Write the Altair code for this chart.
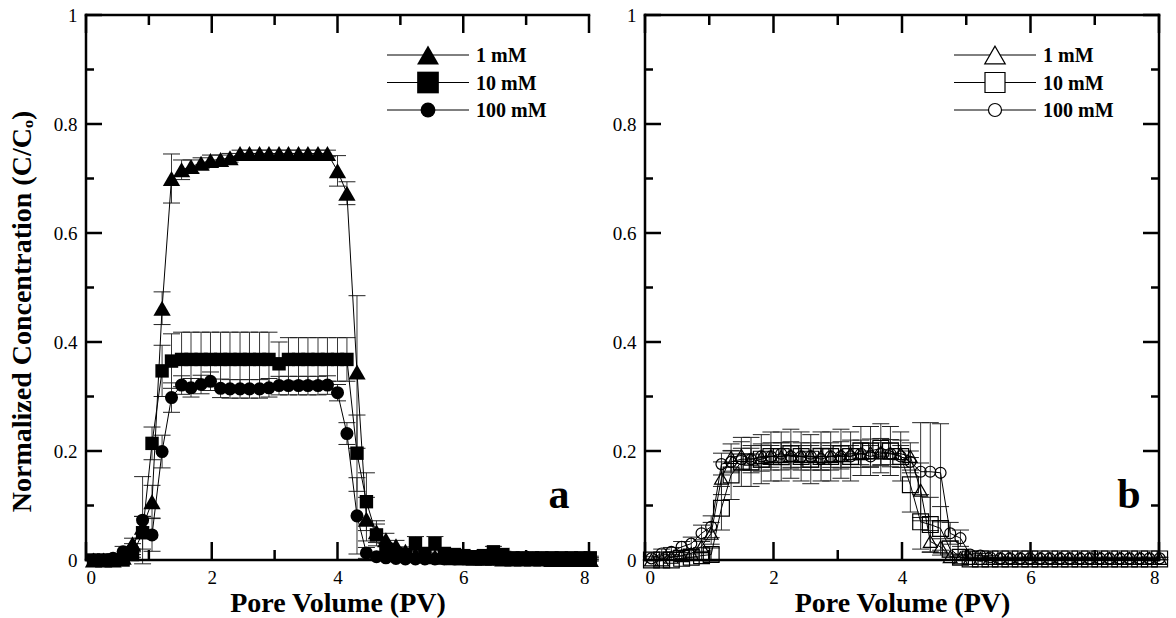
import altair as alt
import pandas as pd

FONT = "Liberation Serif"
SERIES = ["1 mM", "10 mM", "100 mM"]
SHAPES = ["triangle-up", "square", "circle"]

X_MAJOR = [0, 2, 4, 6, 8]
X_MINOR = [1, 3, 5, 7]
Y_MAJOR = [0, 0.2, 0.4, 0.6, 0.8, 1]
Y_MINOR = [0.1, 0.3, 0.5, 0.7, 0.9]

# ---- panel a: breakthrough curves (filled symbols) ----
PV_A = [0.12, 0.28, 0.43, 0.59, 0.74, 0.90, 1.05, 1.21, 1.36, 1.52, 1.67, 1.83, 1.98,
        2.14, 2.29, 2.45, 2.60, 2.76, 2.91, 3.07, 3.22, 3.38, 3.53, 3.69, 3.84, 4.00,
        4.15, 4.31, 4.46, 4.62, 4.77, 4.93, 5.08, 5.24, 5.39, 5.55, 5.70, 5.86, 6.01,
        6.17, 6.32, 6.48, 6.63, 6.79, 6.94, 7.10, 7.25, 7.41, 7.56, 7.72, 7.87, 8.02]

A_1MM = [0, 0, 0, 0.005, 0.03, 0.06, 0.107, 0.462, 0.700, 0.716, 0.722, 0.728, 0.733,
         0.735, 0.738, 0.746, 0.746, 0.746, 0.746, 0.746, 0.746, 0.746, 0.746, 0.746, 0.746, 0.714,
         0.673, 0.345, 0.075, 0.052, 0.037, 0.026, 0.016, 0.010, 0.008, 0.006, 0.005, 0.004, 0.004,
         0.003, 0.003, 0.003, 0.002, 0.002, 0.002, 0.002, 0.002, 0.001, 0.001, 0.001, 0.001, 0.001]
A_1MM_ERR = [0, 0, 0, 0.003, 0.01, 0.02, 0.03, 0.03, 0.045, 0.018, 0.012, 0.01, 0.01,
             0.008, 0.008, 0.006, 0.006, 0.006, 0.006, 0.006, 0.006, 0.006, 0.006, 0.006, 0.006, 0.028,
             0.021, 0.14, 0.04, 0.02, 0.012, 0.01, 0.008, 0.006, 0.005, 0.004, 0.003, 0.003, 0.003,
             0.003, 0.003, 0.003, 0.003, 0.003, 0.003, 0.003, 0.003, 0.003, 0.003, 0.003, 0.003, 0.003]

A_10MM = [0, 0, 0, 0, 0.01, 0.05, 0.214, 0.347, 0.365, 0.368, 0.368, 0.368, 0.368,
          0.368, 0.368, 0.368, 0.368, 0.368, 0.368, 0.360, 0.368, 0.368, 0.368, 0.368, 0.368, 0.368,
          0.368, 0.196, 0.107, 0.046, 0.02, 0.012, 0.01, 0.03, 0.012, 0.03, 0.012, 0.01, 0.008,
          0.006, 0.008, 0.015, 0.01, 0.004, 0.004, 0.004, 0.004, 0.004, 0.004, 0.004, 0.004, 0.004]
A_10MM_ERR = [0, 0, 0, 0, 0.005, 0.03, 0.03, 0.047, 0.05, 0.05, 0.05, 0.05, 0.05,
              0.05, 0.05, 0.05, 0.05, 0.05, 0.05, 0.04, 0.04, 0.04, 0.04, 0.04, 0.04, 0.04,
              0.04, 0.07, 0.053, 0.02, 0.01, 0.008, 0.008, 0.013, 0.008, 0.013, 0.008, 0.006, 0.005,
              0.005, 0.006, 0.01, 0.006, 0.003, 0.003, 0.003, 0.003, 0.003, 0.003, 0.003, 0.003, 0.003]

A_100MM = [0, 0, 0.003, 0.015, 0.02, 0.073, 0.046, 0.199, 0.298, 0.321, 0.316, 0.322, 0.328,
           0.315, 0.314, 0.314, 0.314, 0.314, 0.316, 0.320, 0.320, 0.320, 0.320, 0.320, 0.321, 0.307,
           0.232, 0.081, 0.013, 0.006, 0.004, 0.003, 0.002, 0.002, 0.002, 0.002, 0.002, 0.002, 0.002,
           0.002, 0.002, 0.002, 0.002, 0.002, 0.002, 0.002, 0.002, 0.002, 0.002, 0.002, 0.002, 0.002]
A_100MM_ERR = [0, 0, 0.003, 0.01, 0.01, 0.08, 0.03, 0.03, 0.027, 0.017, 0.017, 0.017, 0.017,
               0.017, 0.017, 0.017, 0.017, 0.017, 0.017, 0.017, 0.017, 0.017, 0.017, 0.017, 0.017, 0.015,
               0.02, 0.07, 0.01, 0.005, 0.003, 0.003, 0.002, 0.002, 0.002, 0.002, 0.002, 0.002, 0.002,
               0.002, 0.002, 0.002, 0.002, 0.002, 0.002, 0.002, 0.002, 0.002, 0.002, 0.002, 0.002, 0.002]

# ---- panel b: breakthrough curves (open symbols) ----
PV_B = [0.10, 0.26, 0.41, 0.57, 0.72, 0.88, 1.03, 1.19, 1.34, 1.50, 1.65, 1.81, 1.96,
        2.12, 2.27, 2.43, 2.58, 2.74, 2.89, 3.05, 3.20, 3.36, 3.51, 3.67, 3.82, 3.98,
        4.13, 4.29, 4.44, 4.60, 4.75, 4.91, 5.06, 5.22, 5.37, 5.53, 5.68, 5.84, 5.99,
        6.15, 6.30, 6.46, 6.61, 6.77, 6.92, 7.08, 7.23, 7.39, 7.54, 7.70, 7.85, 8.01]

B_1MM = [0, 0, 0.005, 0.008, 0.012, 0.025, 0.049, 0.150, 0.188, 0.192, 0.185, 0.188, 0.19,
         0.19, 0.192, 0.19, 0.19, 0.19, 0.19, 0.192, 0.195, 0.195, 0.197, 0.198, 0.196, 0.195,
         0.19, 0.128, 0.034, 0.024, 0.006, 0.004, 0.003, 0.003, 0.003, 0.003, 0.003, 0.003, 0.003,
         0.003, 0.003, 0.003, 0.003, 0.003, 0.003, 0.003, 0.003, 0.003, 0.003, 0.003, 0.003, 0.003]
B_1MM_ERR = [0, 0, 0.005, 0.006, 0.008, 0.012, 0.02, 0.03, 0.025, 0.025, 0.025, 0.025, 0.025,
             0.025, 0.025, 0.025, 0.025, 0.025, 0.025, 0.025, 0.025, 0.025, 0.025, 0.025, 0.025, 0.025,
             0.025, 0.05, 0.02, 0.015, 0.005, 0.004, 0.002, 0.002, 0.002, 0.002, 0.002, 0.002, 0.002,
             0.002, 0.002, 0.002, 0.002, 0.002, 0.002, 0.002, 0.002, 0.002, 0.002, 0.002, 0.002, 0.002]

B_10MM = [0, 0, 0, 0.003, 0.005, 0.008, 0.01, 0.095, 0.156, 0.18, 0.18, 0.185, 0.19,
          0.19, 0.195, 0.19, 0.185, 0.19, 0.19, 0.195, 0.19, 0.20, 0.20, 0.205, 0.20, 0.19,
          0.138, 0.07, 0.065, 0.058, 0.02, 0.005, 0.002, 0.002, 0.002, 0.002, 0.002, 0.002, 0.002,
          0.002, 0.002, 0.002, 0.002, 0.002, 0.002, 0.002, 0.002, 0.002, 0.002, 0.002, 0.002, 0.002]
B_10MM_ERR = [0, 0, 0, 0.004, 0.006, 0.008, 0.012, 0.04, 0.045, 0.045, 0.045, 0.045, 0.045,
              0.045, 0.045, 0.045, 0.045, 0.045, 0.045, 0.045, 0.045, 0.045, 0.045, 0.045, 0.045, 0.045,
              0.05, 0.05, 0.05, 0.04, 0.015, 0.005, 0.002, 0.002, 0.002, 0.002, 0.002, 0.002, 0.002,
              0.002, 0.002, 0.002, 0.002, 0.002, 0.002, 0.002, 0.002, 0.002, 0.002, 0.002, 0.002, 0.002]

B_100MM = [0.003, 0.012, 0.015, 0.024, 0.03, 0.049, 0.061, 0.176, 0.18, 0.185, 0.185, 0.19, 0.19,
           0.195, 0.19, 0.19, 0.19, 0.185, 0.19, 0.19, 0.19, 0.195, 0.19, 0.195, 0.195, 0.19,
           0.18, 0.162, 0.162, 0.16, 0.049, 0.04, 0.01, 0.008, 0.005, 0.003, 0.003, 0.003, 0.003,
           0.003, 0.003, 0.003, 0.003, 0.003, 0.003, 0.003, 0.003, 0.003, 0.003, 0.003, 0.003, 0.003]
B_100MM_ERR = [0.003, 0.008, 0.008, 0.01, 0.012, 0.015, 0.02, 0.02, 0.02, 0.02, 0.02, 0.02, 0.02,
               0.02, 0.02, 0.02, 0.02, 0.02, 0.02, 0.02, 0.02, 0.02, 0.02, 0.02, 0.02, 0.02,
               0.02, 0.09, 0.09, 0.09, 0.02, 0.015, 0.005, 0.004, 0.003, 0.002, 0.002, 0.002, 0.002,
               0.002, 0.002, 0.002, 0.002, 0.002, 0.002, 0.002, 0.002, 0.002, 0.002, 0.002, 0.002, 0.002]

PLOT_H = 545
BLACK = "black"


def build_panel(pv, curves, width, filled, sizes, legend_sizes, tag, y_title,
                right_spine, legend_x):
    xs = alt.Scale(domain=[0, 8], nice=False, zero=False)
    ys = alt.Scale(domain=[0, 1], nice=False, zero=False)
    x_axis = alt.Axis(values=X_MAJOR, format="~g", domain=False, ticks=False, grid=False,
                      labelFont=FONT, labelFontSize=19, labelPadding=8, labelColor=BLACK,
                      title="Pore Volume (PV)", titleFont=FONT, titleFontSize=28,
                      titleFontWeight="bold", titleColor=BLACK, titlePadding=2)
    y_kw = dict(values=Y_MAJOR, format="~g", domain=False, ticks=False, grid=False,
                labelFont=FONT, labelFontSize=19, labelPadding=9, labelColor=BLACK)
    if y_title:
        y_kw.update(title=y_title, titleFont=FONT, titleFontSize=28, titleFontWeight="bold",
                    titleColor=BLACK, titlePadding=17, titleY=296)
    else:
        y_kw.update(title=None)
    y_axis = alt.Axis(**y_kw)

    def X(field):
        return alt.X(field, type="quantitative", scale=xs, axis=x_axis)

    def Y(field):
        return alt.Y(field, type="quantitative", scale=ys, axis=y_axis)

    rows = []
    for name, vals, errs in zip(SERIES, curves[0], curves[1]):
        for x, v, e in zip(pv, vals, errs):
            rows.append({"pv": x, "c": v, "lo": v - e, "hi": v + e, "series": name})
    df = pd.DataFrame(rows)

    layers = []
    # error bars with caps
    layers.append(alt.Chart(df).mark_rule(color="#222222", strokeWidth=0.9).encode(
        x=X("pv"), y=Y("lo"), y2=alt.Y2("hi")))
    for f in ["lo", "hi"]:
        layers.append(alt.Chart(df).mark_tick(orient="horizontal", size=17, thickness=1,
                                              color="#222222", opacity=1).encode(x=X("pv"), y=Y(f)))
    # connecting lines
    layers.append(alt.Chart(df).mark_line(color=BLACK, strokeWidth=1).encode(
        x=X("pv"), y=Y("c"), detail="series:N", order="pv:Q"))
    # symbols
    for name, shape, size in zip(SERIES, SHAPES, sizes):
        sub = df[df["series"] == name]
        if filled:
            mk = alt.Chart(sub).mark_point(shape=shape, size=size, filled=True, color=BLACK,
                                           opacity=1)
        else:
            mk = alt.Chart(sub).mark_point(shape=shape, size=size, filled=False, color=BLACK,
                                           strokeWidth=1.2, opacity=1)
        layers.append(mk.encode(x=X("pv"), y=Y("c")))

    # inward ticks
    def yticks(vals, x0, x1):
        return alt.Chart(pd.DataFrame({"v": vals})).mark_rule(color=BLACK, strokeWidth=2.5).encode(
            y=Y("v"), x=alt.value(x0), x2=alt.value(x1))

    def xticks(vals, y0, y1):
        return alt.Chart(pd.DataFrame({"v": vals})).mark_rule(color=BLACK, strokeWidth=2.5).encode(
            x=X("v"), y=alt.value(y0), y2=alt.value(y1))

    layers += [yticks(Y_MAJOR, 0, 16), yticks(Y_MINOR, 0, 8),
               xticks(X_MAJOR, PLOT_H, PLOT_H - 18), xticks(X_MINOR, PLOT_H, PLOT_H - 10),
               xticks(X_MAJOR, 0, 18), xticks(X_MINOR, 0, 10)]
    if right_spine:
        layers += [yticks(Y_MAJOR, width, width - 16), yticks(Y_MINOR, width, width - 8)]

    one = pd.DataFrame({"k": [0]})
    spine = dict(color=BLACK, strokeWidth=2.5, strokeCap="square")
    layers.append(alt.Chart(one).mark_rule(**spine).encode(
        x=alt.value(0), y=alt.value(0), y2=alt.value(PLOT_H)))
    layers.append(alt.Chart(one).mark_rule(**spine).encode(
        x=alt.value(0), x2=alt.value(width), y=alt.value(PLOT_H)))
    layers.append(alt.Chart(one).mark_rule(**spine).encode(
        x=alt.value(0), x2=alt.value(width), y=alt.value(0)))
    if right_spine:
        layers.append(alt.Chart(one).mark_rule(**spine).encode(
            x=alt.value(width), y=alt.value(0), y2=alt.value(PLOT_H)))

    # legend: line through symbol, bold label
    for i, (name, shape, size) in enumerate(zip(SERIES, SHAPES, legend_sizes)):
        yy = 40 + 27.5 * i
        layers.append(alt.Chart(one).mark_rule(color=BLACK, strokeWidth=1).encode(
            x=alt.value(legend_x), x2=alt.value(legend_x + 82), y=alt.value(yy)))
        layers.append(alt.Chart(one).mark_point(
            shape=shape, size=size, filled=filled, color=BLACK, opacity=1,
            fill=BLACK if filled else "white", fillOpacity=1, strokeWidth=1.2).encode(
            x=alt.value(legend_x + 41), y=alt.value(yy)))
        layers.append(alt.Chart(one).mark_text(
            align="left", baseline="middle", font=FONT, fontSize=20, fontWeight="bold",
            color=BLACK).encode(x=alt.value(legend_x + 89), y=alt.value(yy + 1),
                                text=alt.value(name)))

    layers.append(alt.Chart(one).mark_text(
        align="center", baseline="alphabetic", font=FONT, fontSize=42, fontWeight="bold",
        color=BLACK).encode(x=alt.value(width - 30), y=alt.value(PLOT_H - 52),
                            text=alt.value(tag)))

    return alt.layer(*layers).properties(width=width, height=PLOT_H)


left = build_panel(PV_A, ([A_1MM, A_10MM, A_100MM], [A_1MM_ERR, A_10MM_ERR, A_100MM_ERR]),
                   503, True, [300, 180, 170], [480, 470, 220], "a",
                   "Normalized Concentration (C/Cₒ)", False, 301)
right = build_panel(PV_B, ([B_1MM, B_10MM, B_100MM], [B_1MM_ERR, B_10MM_ERR, B_100MM_ERR]),
                    514, False, [190, 250, 120], [420, 400, 170], "b",
                    None, True, 309)

chart = alt.hconcat(left, right, spacing=13).properties(
    padding={"left": 8, "top": 6, "right": 4, "bottom": 2}
).configure_view(stroke=None)

chart.save("out.html", embed_options={"renderer": "svg", "actions": False})
